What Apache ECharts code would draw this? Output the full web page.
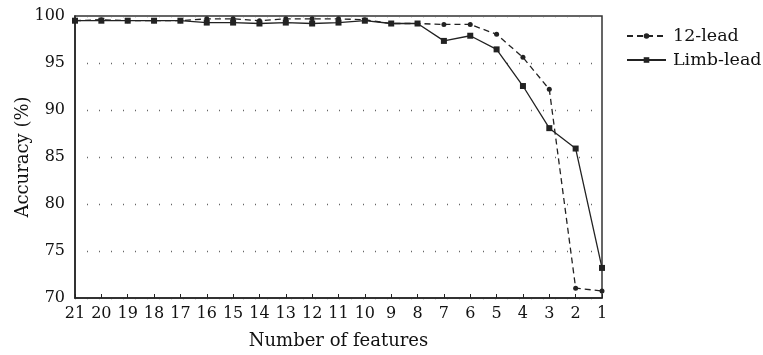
<!DOCTYPE html>
<html>
<head>
<meta charset="utf-8">
<script src="https://cdn.jsdelivr.net/npm/echarts@6/dist/echarts.min.js"></script>
<style>html,body{margin:0;padding:0;background:#fff}#c{width:763px;height:355px}</style>
</head>
<body>
<div id="c"></div>
<script>
var features = [21,20,19,18,17,16,15,14,13,12,11,10,9,8,7,6,5,4,3,2,1];
var lead12 = [99.5,99.6,99.5,99.5,99.5,99.7,99.7,99.5,99.7,99.7,99.7,99.6,99.2,99.2,99.1,99.1,98.05,95.6,92.2,71.05,70.75];
var limbLead = [99.5,99.5,99.5,99.5,99.5,99.3,99.3,99.2,99.3,99.2,99.3,99.5,99.2,99.2,97.35,97.9,96.45,92.55,88.07,85.9,73.2];
var yTicks = [70,75,80,85,90,95,100];

function pairs(vals){ return features.map(function(f,i){ return [f, vals[i]]; }); }
var FONT = 'DejaVu Serif';
var chart = echarts.init(document.getElementById('c'));
chart.setOption({
  animation: false,
  backgroundColor: '#fff',
  textStyle: { fontFamily: FONT, color: '#111' },
  grid: { left: 75, right: 161, top: 16, bottom: 57, show: true, borderColor: '#333', borderWidth: 1.5, backgroundColor: 'transparent' },
  legend: {
    orient: 'vertical', left: 621, top: 22, itemGap: 6, itemWidth: 39, itemHeight: 7,
    textStyle: { fontFamily: FONT, fontSize: 17.5, color: '#111', padding: [0, 0, 0, 2] },
    data: ['12-lead', 'Limb-lead']
  },
  xAxis: {
    type: 'value', inverse: true, min: 1, max: 21, interval: 1,
    name: 'Number of features', nameLocation: 'middle', nameGap: 34, nameMoveOverlap: false,
    nameTextStyle: { fontFamily: FONT, fontSize: 18, color: '#111' },
    axisLine: { show: true, lineStyle: { color: '#222', width: 1.5 } },
    axisTick: { show: true, inside: true, length: 4, lineStyle: { color: '#222' } },
    axisLabel: { fontFamily: FONT, fontSize: 16, color: '#111', margin: 8 },
    splitLine: { show: false }
  },
  yAxis: {
    type: 'value', min: 70, max: 100, interval: 5,
    name: 'Accuracy (%)', nameLocation: 'middle', nameGap: 43, nameMoveOverlap: false,
    nameTextStyle: { fontFamily: FONT, fontSize: 18, color: '#111' },
    axisLine: { show: true, lineStyle: { color: '#222', width: 1.5 } },
    axisTick: { show: false },
    axisLabel: { fontFamily: FONT, fontSize: 16, color: '#111', margin: 10,
      formatter: function(v){ return yTicks.indexOf(v) >= 0 ? String(v) : ''; } },
    splitLine: { show: true, lineStyle: { color: '#666', type: [1, 11], width: 1.3 } }
  },
  series: [
    {
      name: '12-lead', type: 'line', data: pairs(lead12),
      symbol: 'circle', symbolSize: 5,
      lineStyle: { color: '#222', width: 1.3, type: [6, 4] },
      itemStyle: { color: '#222' }
    },
    {
      name: 'Limb-lead', type: 'line', data: pairs(limbLead),
      symbol: 'rect', symbolSize: 6,
      lineStyle: { color: '#222', width: 1.3, type: 'solid' },
      itemStyle: { color: '#222' }
    }
  ]
});
</script>
</body>
</html>
